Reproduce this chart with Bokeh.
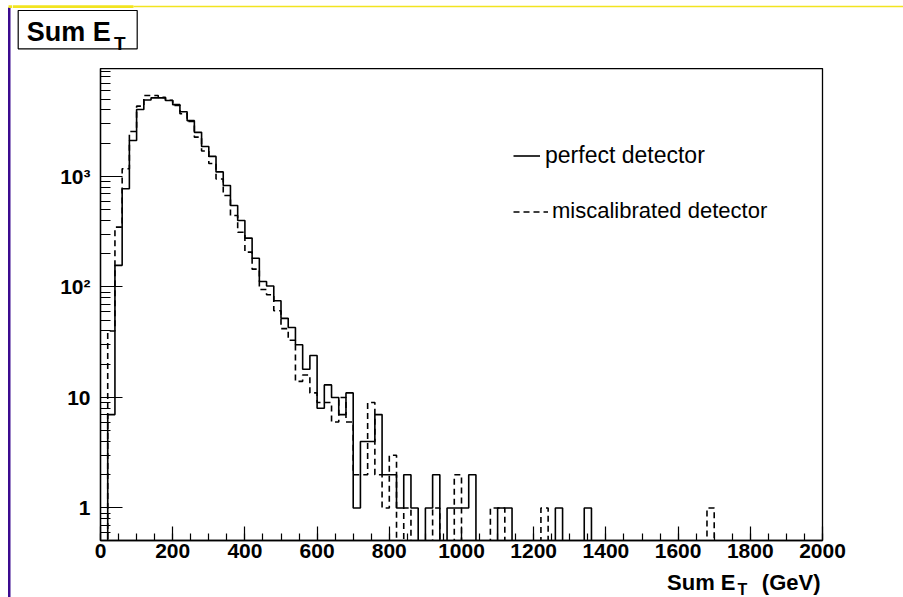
from bokeh.plotting import figure
from bokeh.layouts import column, row
from bokeh.models import Range1d, FixedTicker, Legend, LegendItem
from bokeh.core.properties import value
from bokeh.embed import file_html
from bokeh.resources import INLINE

# ---------------- data ----------------
bin_edges = list(range(0, 2001, 20))          # 100 bins of 20 GeV

perfect = [0, 7, 157, 774, 2120, 4040, 4930, 5150, 5150, 4870,
           4470, 3850, 3200, 2510, 1870, 1520, 1100, 830, 547, 400,
           277, 182, 112, 102, 75, 52, 43, 30, 18, 24,
           8, 13, 10, 7, 11, 1, 4, 4, 7, 2,
           2, 1, 2, 1, 0, 1, 2, 0, 1, 1,
           1, 2, 0, 0, 0, 1, 1, 0, 0, 0,
           0, 0, 0, 1, 0, 0, 0, 1, 0, 0,
           0, 0, 0, 0, 0, 0, 0, 0, 0, 0,
           0, 0, 0, 0, 0, 0, 0, 0, 0, 0,
           0, 0, 0, 0, 0, 0, 0, 0, 0, 0]

miscalibrated = [0, 40, 348, 1175, 2550, 4330, 5400, 5400, 5200, 4900,
                 4400, 3700, 3150, 2270, 1700, 1310, 950, 673, 443, 313,
                 207, 145, 95, 85, 61, 42, 33, 14, 16, 11,
                 9, 9, 6, 10, 6, 2, 2, 9, 2, 1,
                 3, 0, 1, 0, 0, 0, 1, 0, 0, 2,
                 0, 0, 0, 0, 1, 1, 0, 0, 0, 0,
                 0, 1, 0, 0, 0, 0, 0, 0, 0, 0,
                 0, 0, 0, 0, 0, 0, 0, 0, 0, 0,
                 0, 0, 0, 0, 1, 0, 0, 0, 0, 0,
                 0, 0, 0, 0, 0, 0, 0, 0, 0, 0]

x_ticks = list(range(0, 2001, 200))
x_tick_labels = [str(v) for v in x_ticks]
x_minor_ticks = list(range(0, 2001, 50))
y_ticks = [1, 10, 100, 1000]
y_tick_labels = ["1", "10", "10\u00b2", "10\u00b3"]
y_minor_ticks = [m * 10.0 ** k for k in range(-1, 4) for m in range(2, 10)]

series_labels = ["perfect detector", "miscalibrated detector"]
title_main, title_sub = "Sum E", "T"
xlabel_main, xlabel_sub, xlabel_unit = "Sum E", "T", "(GeV)"

FONT = "Liberation Sans"
PURPLE = "#3b0a8f"
YELLOW = "#f2e420"
W, H = 903, 597
LEFT_W = 12
TOP_H = 68
MAIN_H = 499
BOT_H = H - TOP_H - MAIN_H


def strip(x0, x1, height):
    """A borderless figure whose frame is its whole canvas, in page pixel units."""
    s = figure(width=int(x1 - x0), height=height, output_backend="svg", toolbar_location=None,
               x_range=Range1d(x0, x1), y_range=Range1d(height, 0),
               x_axis_location=None, y_axis_location=None, min_border=0)
    s.outline_line_color = None
    s.xgrid.visible = False
    s.ygrid.visible = False
    s.background_fill_color = "white"
    s.border_fill_color = "white"
    return s


def bold_text(s, x, y, text, size, align="left"):
    s.text(x=[x], y=[y], text=[text], text_font=value(FONT), text_font_style="bold",
           text_font_size=value(size), text_align=align, text_baseline="alphabetic",
           text_color="black")


# ---------------- left strip: purple slide rule, full height ----------------
left = strip(0, LEFT_W, H)
left.quad(left=[7.5], right=[10], top=[7], bottom=[H], fill_color=PURPLE, line_color=None)
left.quad(left=[8], right=[LEFT_W], top=[4.8], bottom=[7.6], fill_color=YELLOW, line_color=None)

# ---------------- top strip: yellow rule + title box ----------------
top = strip(LEFT_W, W, TOP_H)
top.quad(left=[LEFT_W], right=[133], top=[4.8], bottom=[7.6], fill_color=YELLOW, line_color=None)
top.quad(left=[133], right=[W], top=[5.3], bottom=[6.8], fill_color=YELLOW, line_color=None)
top.quad(left=[17.7], right=[136.7], top=[10], bottom=[48.3], fill_alpha=0,
         line_color="black", line_width=1.2)
bold_text(top, 26.2, 31.7, title_main, "27px")
bold_text(top, 113.5, 42.7, title_sub, "19px")

# ---------------- main plot ----------------
p = figure(width=W - LEFT_W, height=MAIN_H, output_backend="svg", toolbar_location=None,
           x_range=Range1d(0, 2000), y_range=Range1d(0.508, 9490), y_axis_type="log",
           min_border_left=100 - LEFT_W, min_border_right=81, min_border_top=0,
           min_border_bottom=27)
p.background_fill_color = "white"
p.border_fill_color = "white"
p.outline_line_color = "black"
p.outline_line_width = 1.3
p.xgrid.visible = False
p.ygrid.visible = False

floor = 0.05  # empty bins drop below the visible range (log axis)


def step_vals(counts):
    vals = [c if c > 0 else floor for c in counts]
    return vals + [vals[-1]]


r1 = p.step(x=bin_edges, y=step_vals(perfect), mode="after",
            line_color="black", line_width=1.6)
r2 = p.step(x=bin_edges, y=step_vals(miscalibrated), mode="after",
            line_color="black", line_width=1.6, line_dash="6 4")

for ax in p.xaxis:
    ax.ticker = FixedTicker(ticks=x_ticks, minor_ticks=x_minor_ticks)
    ax.major_label_overrides = {v: l for v, l in zip(x_ticks, x_tick_labels)}
    ax.major_tick_in = 14
    ax.major_tick_out = 0
    ax.minor_tick_in = 7
    ax.minor_tick_out = 0
    ax.major_label_standoff = 3
for ax in p.yaxis:
    ax.ticker = FixedTicker(ticks=y_ticks, minor_ticks=y_minor_ticks)
    ax.major_label_overrides = {v: l for v, l in zip(y_ticks, y_tick_labels)}
    ax.major_tick_in = 22
    ax.major_tick_out = 0
    ax.minor_tick_in = 10
    ax.minor_tick_out = 0
    ax.major_label_standoff = 10
for ax in list(p.xaxis) + list(p.yaxis):
    ax.axis_line_color = "black"
    ax.axis_line_width = 1.3
    ax.major_tick_line_color = "black"
    ax.minor_tick_line_color = "black"
    ax.major_tick_line_width = 1.2
    ax.minor_tick_line_width = 1.2
    ax.major_label_text_font = FONT
    ax.major_label_text_font_style = "bold"
    ax.major_label_text_font_size = "21px"
    ax.major_label_text_color = "black"


def make_legend(label, rend, gw, standoff, y_loc, size):
    lg = Legend(items=[LegendItem(label=label, renderers=[rend])],
                location=(413, y_loc), border_line_color=None,
                background_fill_alpha=0, padding=0, margin=0,
                glyph_width=gw, glyph_height=25, label_height=25,
                label_standoff=standoff, label_text_font=FONT,
                label_text_font_size=size, label_text_color="black")
    p.add_layout(lg)


make_legend(series_labels[0], r1, 27, 5, 370.8, "23px")
make_legend(series_labels[1], r2, 35, 4, 315.8, "22px")

# ---------------- bottom strip: x-axis title ----------------
bot = strip(LEFT_W, W, BOT_H)
bold_text(bot, 735, 14.7, xlabel_main, "22px", "right")
bold_text(bot, 737, 22, xlabel_sub, "16px")
bold_text(bot, 820, 14.7, xlabel_unit, "22px", "right")

layout = row(left, column(top, row(p), bot))
open("out.html", "w").write(file_html(layout, INLINE))
